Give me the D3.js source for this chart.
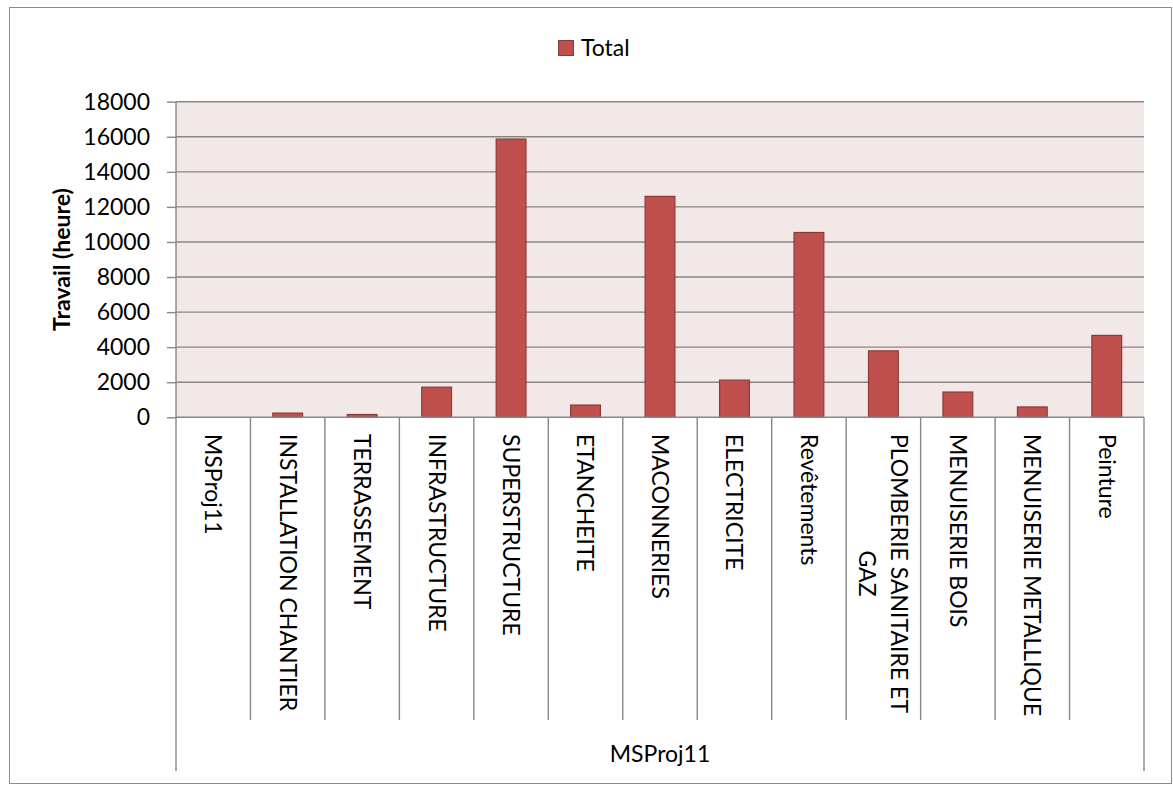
<!DOCTYPE html>
<html>
<head>
<meta charset="utf-8">
<title>Travail (heure)</title>
<script src="https://cdn.jsdelivr.net/npm/d3@7"></script>
<style>
  body { margin: 0; background: #fff; }
  text { font-family: Lato, "Open Sans", sans-serif; fill: #000; }
</style>
</head>
<body>
<script>
// values
var categories = ["MSProj11", "INSTALLATION CHANTIER", "TERRASSEMENT", "INFRASTRUCTURE",
  "SUPERSTRUCTURE", "ETANCHEITE", "MACONNERIES", "ELECTRICITE", "Revêtements",
  "PLOMBERIE SANITAIRE ET GAZ", "MENUISERIE BOIS", "MENUISERIE METALLIQUE", "Peinture"];
var totals = [0, 240, 160, 1720, 15870, 700, 12600, 2120, 10540, 3790, 1440, 590, 4670];
var yTicks = [0, 2000, 4000, 6000, 8000, 10000, 12000, 14000, 16000, 18000];
var groupLabel = "MSProj11";
var seriesName = "Total";
var yTitle = "Travail (heure)";

var width = 1173, height = 785;
var plotL = 176, plotR = 1144, plotT = 101.7, plotB = 417.3;
var fontSize = 23;
var gridColor = "#878787";

var svg = d3.select("body").append("svg")
    .attr("width", width)
    .attr("height", height);

// outer frame
svg.append("rect")
    .attr("x", 9.5).attr("y", 7.5)
    .attr("width", 1162).attr("height", 776)
    .attr("fill", "#fff")
    .attr("stroke", "#8c8c8c");

var x = d3.scaleBand().domain(categories).range([plotL, plotR]).padding(0);
var y = d3.scaleLinear().domain([0, 18000]).range([plotB, plotT]);

// plot background
svg.append("rect")
    .attr("x", plotL).attr("y", plotT)
    .attr("width", plotR - plotL).attr("height", plotB - plotT)
    .attr("fill", "#f2e8e7");

// ticks + labels
var yAxis = svg.append("g")
    .attr("transform", "translate(" + plotL + ",0)")
    .call(d3.axisLeft(y).tickValues(yTicks).tickSize(9).tickPadding(17).tickFormat(d3.format("d")));
yAxis.select(".domain").remove();
yAxis.selectAll(".tick line").attr("stroke", gridColor).attr("stroke-width", 1.4);
yAxis.selectAll(".tick text").attr("font-size", fontSize).attr("font-family", null).attr("fill", "#000");

// gridlines
svg.append("g").selectAll("line")
    .data(yTicks.filter(function (d) { return d > 0; }))
    .join("line")
    .attr("x1", plotL).attr("x2", plotR)
    .attr("y1", function (d) { return y(d); })
    .attr("y2", function (d) { return y(d); })
    .attr("stroke", gridColor)
    .attr("stroke-width", 1.4);

// bars (gap width 150%)
var barW = x.step() / 2.5;
var rows = categories.map(function (c, i) { return { cat: c, value: totals[i] }; });
svg.append("g").selectAll("rect")
    .data(rows.filter(function (d) { return d.value > 0; }))
    .join("rect")
    .attr("x", function (d) { return x(d.cat) + (x.step() - barW) / 2; })
    .attr("y", function (d) { return y(d.value); })
    .attr("width", barW)
    .attr("height", function (d) { return y(0) - y(d.value); })
    .attr("fill", "#c0504d")
    .attr("stroke", "#8d3a37")
    .attr("stroke-width", 1.2);

// category axis: baseline, separators, outer lines
svg.append("line")
    .attr("x1", plotL).attr("x2", plotR)
    .attr("y1", plotB).attr("y2", plotB)
    .attr("stroke", gridColor).attr("stroke-width", 1.6);

svg.append("g").selectAll("line")
    .data(categories.slice(1))
    .join("line")
    .attr("x1", function (d) { return x(d); })
    .attr("x2", function (d) { return x(d); })
    .attr("y1", plotB).attr("y2", 720)
    .attr("stroke", gridColor).attr("stroke-width", 1.4);

[plotL, plotR].forEach(function (px) {
  svg.append("line")
      .attr("x1", px).attr("x2", px)
      .attr("y1", px === plotL ? plotT : plotB).attr("y2", 771)
      .attr("stroke", gridColor).attr("stroke-width", 1.4);
});

// rotated category labels; wrapped lines are centred on each other
var wrapped = { "PLOMBERIE SANITAIRE ET GAZ": ["PLOMBERIE SANITAIRE ET", "GAZ"] };
var labels = svg.append("g").selectAll("text")
    .data(categories)
    .join("text")
    .attr("font-size", fontSize)
    .attr("transform", function (d) {
      return "translate(" + (x(d) + x.bandwidth() / 2) + ",434) rotate(90)";
    });

labels.each(function (d) {
  var lines = wrapped[d] || [d];
  var t = d3.select(this);
  var lh = 32;
  var spans = lines.map(function (ln, k) {
    return t.append("tspan")
        .attr("x", 0)
        .attr("y", (k - (lines.length - 1) / 2) * lh)
        .attr("dy", "0.35em")
        .text(ln);
  });
  if (lines.length > 1) {
    var lens = spans.map(function (s) { return s.node().getComputedTextLength(); });
    var maxLen = d3.max(lens);
    spans.forEach(function (s, k) { s.attr("x", (maxLen - lens[k]) / 2); });
  }
});

// group label
svg.append("text")
    .attr("x", (plotL + plotR) / 2)
    .attr("y", 762)
    .attr("text-anchor", "middle")
    .attr("font-size", fontSize)
    .text(groupLabel);

// y axis title
svg.append("text")
    .attr("transform", "translate(62," + ((plotT + plotB) / 2) + ") rotate(-90)")
    .attr("text-anchor", "middle")
    .attr("dy", "0.35em")
    .attr("font-size", fontSize)
    .attr("font-weight", "bold")
    .text(yTitle);

// legend
svg.append("rect")
    .attr("x", 558.5).attr("y", 40.5)
    .attr("width", 15).attr("height", 15)
    .attr("fill", "#c0504d")
    .attr("stroke", "#8d3a37");
svg.append("text")
    .attr("x", 581).attr("y", 56)
    .attr("font-size", fontSize)
    .text(seriesName);
</script>
</body>
</html>
